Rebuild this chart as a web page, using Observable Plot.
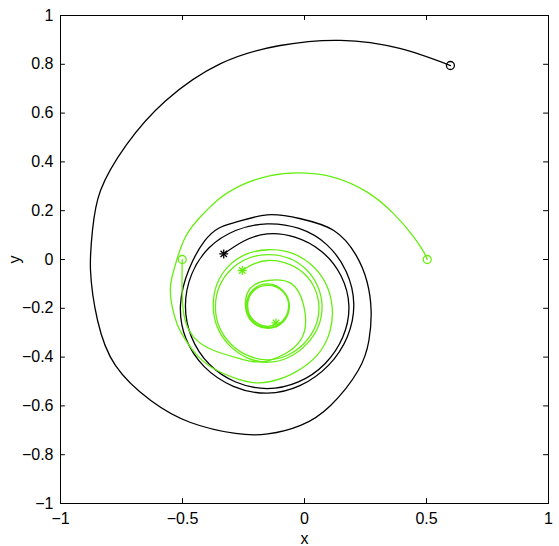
<!DOCTYPE html>
<html><head><meta charset="utf-8">
<script src="https://cdn.jsdelivr.net/npm/d3@7"></script>
<script src="https://cdn.jsdelivr.net/npm/@observablehq/plot@0.6"></script>
<style>
body{margin:0;background:#fff}
#chart svg{display:block}
#chart svg text{font-family:'Liberation Sans', Arial, Helvetica, sans-serif !important; font-size:16px !important;}
</style>
</head><body><div id="chart"></div>
<script>
// Black trajectory
const blackX = [0.598,0.39,0.148,-0.1,-0.344,-0.57,-0.73,-0.836,-0.869,-0.877,-0.848,-0.775,-0.63,-0.467,-0.283,-0.15,-0.016,0.107,0.22,0.264,0.273,0.256,0.21,0.12,-0.016,-0.153,-0.291,-0.41,-0.508,-0.41,-0.153,0.098,0.202,0.091,-0.153,-0.391,-0.488,-0.391,-0.153,0.084,0.182,0.07,-0.153,-0.331];
const blackY = [0.795,0.865,0.898,0.877,0.803,0.65,0.47,0.283,0.119,-0.045,-0.25,-0.434,-0.578,-0.668,-0.713,-0.715,-0.68,-0.598,-0.455,-0.332,-0.209,-0.09,0.02,0.119,0.167,0.183,0.15,0.075,-0.183,-0.44,-0.548,-0.434,-0.183,0.061,0.146,0.048,-0.19,-0.428,-0.529,-0.427,-0.19,0.033,0.105,0.023];
// Green trajectory starting at (0.5, 0)
const green1X = [0.503,0.489,0.448,0.366,0.257,0.12,-0.016,-0.139,-0.262,-0.358,-0.44,-0.495,-0.536,-0.55,-0.542,-0.522,-0.495,-0.433,-0.358,-0.276,-0.139,0.052,0.113,0.023,-0.15,-0.312,-0.374,-0.31,-0.15,0.008,0.072,0.003,-0.15,-0.3,-0.365,-0.304,-0.15,0.001,0.059,-0.01,-0.15,-0.255];
const green1Y = [0,0.03,0.092,0.187,0.276,0.337,0.355,0.344,0.303,0.242,0.16,0.078,-0.045,-0.12,-0.195,-0.264,-0.318,-0.4,-0.455,-0.489,-0.5,-0.392,-0.19,-0.017,0.04,-0.028,-0.19,-0.35,-0.421,-0.348,-0.19,-0.037,0.02,-0.04,-0.19,-0.344,-0.411,-0.341,-0.19,-0.05,-0.004,-0.045];
// Green trajectory starting at (-0.5, 0)
const green2X = [-0.501,-0.502,-0.495,-0.454,-0.372,-0.262,-0.15,-0.016,-0.003,-0.055,-0.15,-0.222,-0.242,-0.215,-0.15,-0.087,-0.062,-0.088,-0.15,-0.213,-0.238,-0.212,-0.15,-0.09,-0.065,-0.09,-0.15,-0.21,-0.233,-0.208,-0.15,-0.117];
const green2Y = [0,-0.086,-0.223,-0.318,-0.373,-0.407,-0.415,-0.33,-0.19,-0.098,-0.086,-0.118,-0.19,-0.255,-0.282,-0.255,-0.19,-0.128,-0.1,-0.126,-0.19,-0.253,-0.279,-0.252,-0.19,-0.13,-0.106,-0.13,-0.19,-0.25,-0.274,-0.26];
const xTicks = [-1,-0.5,0,0.5,1];
const yTicks = [-1,-0.8,-0.6,-0.4,-0.2,0,0.2,0.4,0.6,0.8,1];

const GREEN = "#66ee11";
const rows = (xs, ys) => xs.map((x, i) => ({x, y: ys[i]}));
const black = rows(blackX, blackY);
const green1 = rows(green1X, green1Y);
const green2 = rows(green2X, green2Y);
const starts = [
  {...black[0], c: "black"},
  {...green1[0], c: GREEN},
  {...green2[0], c: GREEN}
];
const ends = [
  {...black[black.length - 1], c: "black"},
  {...green1[green1.length - 1], c: GREEN},
  {...green2[green2.length - 1], c: GREEN}
];
const fmt = d => (d < 0 ? "\u2212" : "") + Math.abs(d);

const chart = Plot.plot({
  width: 559, height: 546,
  marginLeft: 60, marginRight: 11, marginTop: 15, marginBottom: 43,
  style: {background: "white", color: "black"},
  x: {domain: [-1, 1]},
  y: {domain: [-1, 1]},
  marks: [
    Plot.ruleX(xTicks, {x: d => d, y1: -1, y2: -0.98, stroke: "black", strokeWidth: 1}),
    Plot.ruleX(xTicks, {x: d => d, y1: 0.98, y2: 1, stroke: "black", strokeWidth: 1}),
    Plot.ruleY(yTicks, {y: d => d, x1: -1, x2: -0.98, stroke: "black", strokeWidth: 1}),
    Plot.ruleY(yTicks, {y: d => d, x1: 0.98, x2: 1, stroke: "black", strokeWidth: 1}),
    Plot.line(black, {x: "x", y: "y", stroke: "black", strokeWidth: 1.3, curve: "natural"}),
    Plot.line(green1, {x: "x", y: "y", stroke: GREEN, strokeWidth: 1.3, curve: "natural"}),
    Plot.line(green2, {x: "x", y: "y", stroke: GREEN, strokeWidth: 1.3, curve: "natural"}),
    Plot.dot(starts, {x: "x", y: "y", stroke: "c", r: 4, symbol: "circle", fill: "none", strokeWidth: 1.3}),
    Plot.dot(ends, {x: "x", y: "y", stroke: "c", r: 3, symbol: "plus", strokeWidth: 1.3}),
    Plot.dot(ends, {x: "x", y: "y", stroke: "c", r: 3, symbol: "times", strokeWidth: 1.3}),
    Plot.frame({stroke: "black"}),
    Plot.axisX(xTicks, {tickSize: 0, tickPadding: 9, tickFormat: fmt, label: null}),
    Plot.axisY(yTicks, {tickSize: 0, tickPadding: 7, tickFormat: fmt, label: null}),
    Plot.axisX({ticks: [], tickSize: 0, label: "x", labelAnchor: "center", labelOffset: 40, labelArrow: "none"}),
    Plot.axisY({ticks: [], tickSize: 0, label: "y", labelAnchor: "center", labelOffset: 52, labelArrow: "none"})
  ]
});
document.getElementById("chart").appendChild(chart);
</script>
</body></html>
